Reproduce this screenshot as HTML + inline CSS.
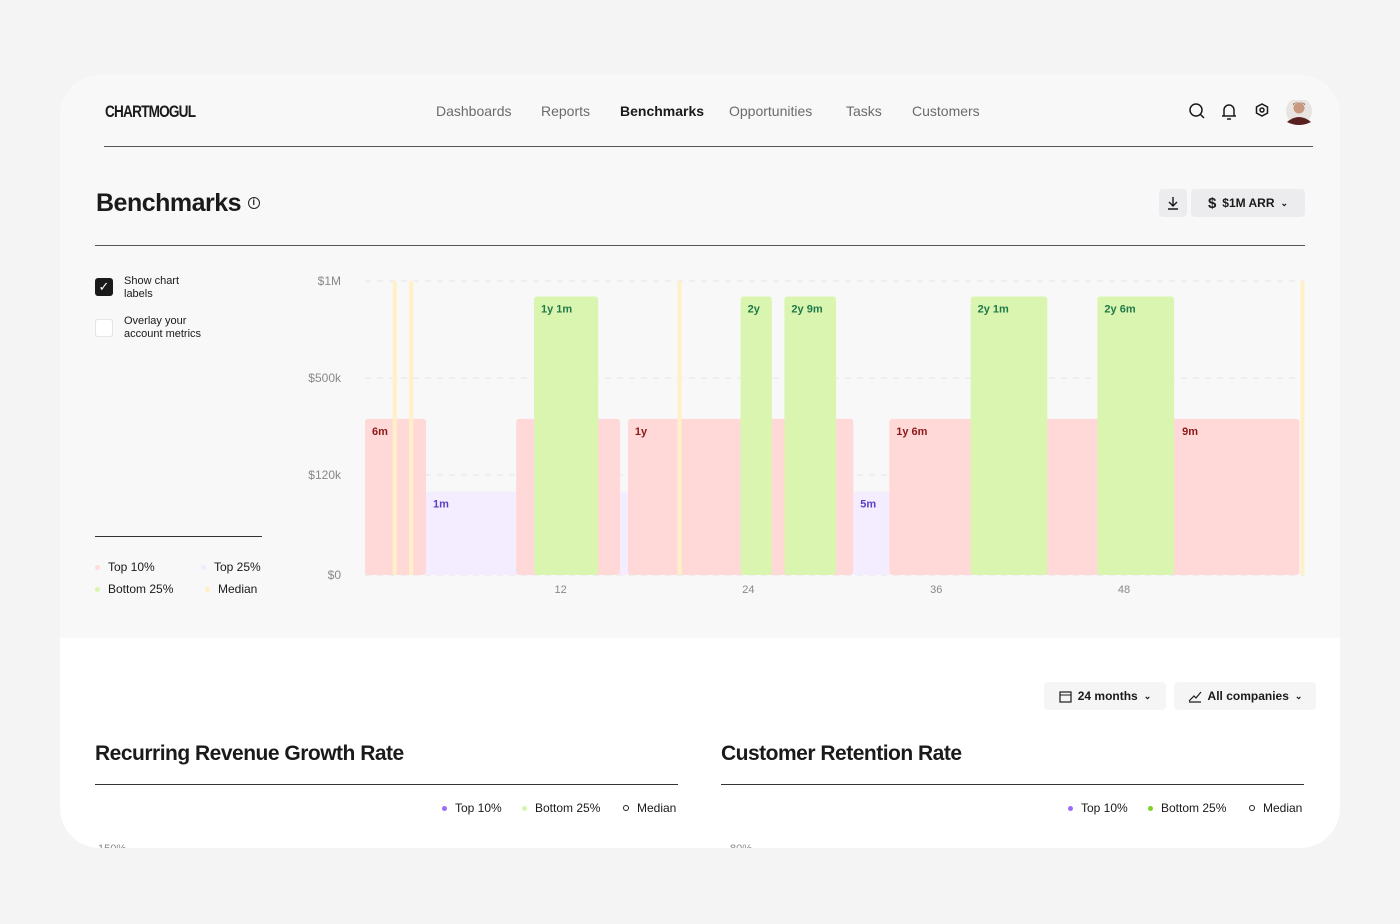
<!DOCTYPE html>
<html><head><meta charset="utf-8">
<style>
*{box-sizing:border-box;margin:0;padding:0}
body{width:1400px;height:924px;background:#f4f4f4;font-family:"Liberation Sans",sans-serif;color:#1a1a1a;position:relative;overflow:hidden}
.card{position:absolute;left:60px;top:75px;width:1280px;height:773px;border-radius:40px;overflow:hidden;background:#fff}
.top{position:absolute;left:0;top:0;width:1280px;height:563px;background:#f8f8f8}
.abs{position:absolute}
.nav a{position:absolute;top:28px;font-size:14px;color:#6b6b6b;text-decoration:none}
.btn{position:absolute;background:#ececee;border-radius:4px;font-size:12px;font-weight:bold;display:flex;align-items:center;justify-content:center;gap:6px}
.btnw{position:absolute;background:#f5f5f5;border-radius:4px;font-size:12px;font-weight:bold;display:flex;align-items:center;justify-content:center;gap:6px}
.leg{position:absolute;font-size:12px;display:flex;align-items:center;gap:8px}
.dot{width:5px;height:5px;border-radius:50%;display:inline-block}
h2{position:absolute;font-size:21px;font-weight:bold;letter-spacing:-0.5px}
</style></head><body>
<div class="card">
<div class="top"></div>
<div class="abs" style="left:45px;top:27px;font-size:17px;font-weight:bold;letter-spacing:-1px;transform:scaleX(0.8);transform-origin:left">CHARTMOGUL</div>
<div class="nav">
<a style="left:376px">Dashboards</a>
<a style="left:481px">Reports</a>
<a style="left:560px;color:#1a1a1a;font-weight:bold">Benchmarks</a>
<a style="left:669px">Opportunities</a>
<a style="left:786px">Tasks</a>
<a style="left:852px">Customers</a>
</div>
<svg class="abs" style="left:1125px;top:25px" width="130" height="28">
<g fill="none" stroke="#1a1a1a" stroke-width="1.5"><circle cx="11" cy="10" r="6"/><line x1="15.5" y1="14.5" x2="19" y2="18"/></g>
<g fill="none" stroke="#1a1a1a" stroke-width="1.5"><path d="M39 16 V10 a5 5 0 0 1 10 0 V16 Z M37 16 H51 M42 19 H46"/></g>
<g fill="none" stroke="#1a1a1a" stroke-width="1.5"><path d="M77 4 L82.5 7 V13 L77 16 L71.5 13 V7 Z"/><circle cx="77" cy="10" r="2"/></g>
<g><circle cx="114" cy="11" r="13" fill="#e8e4e2"/><circle cx="114" cy="8" r="5.5" fill="#c9987e"/><path d="M108 5 Q114 -1 120 5 V4 Q114 0 108 4Z" fill="#5a3a2a"/><path d="M102 22 Q114 12 126 22 Q120 25 114 25 Q108 25 102 22Z" fill="#5a2020"/></g>
</svg>
<div class="abs" style="left:44px;top:71px;width:1209px;height:1px;background:#555"></div>
<div class="abs" style="left:36px;top:114px;font-size:25px;font-weight:bold;letter-spacing:-0.5px">Benchmarks <span style="font-size:12px;border:1.5px solid #222;border-radius:50%;display:inline-block;width:12px;height:12px;line-height:9px;text-align:center;vertical-align:6px;font-size:9px">i</span></div>
<div class="btn" style="left:1099px;top:114px;width:28px;height:28px">
<svg width="14" height="14"><path d="M7 1 V10 M3 6 L7 10 L11 6 M2 13 H12" stroke="#1a1a1a" stroke-width="1.4" fill="none"/></svg></div>
<div class="btn" style="left:1131px;top:114px;width:114px;height:28px"><span style="font-size:15px">$</span>$1M ARR <span style="font-size:9px">⌄</span></div>
<div class="abs" style="left:35px;top:170px;width:1210px;height:1px;background:#555"></div>
<div class="abs" style="left:35px;top:203px;width:18px;height:18px;background:#1a1a1a;border-radius:3px;color:#fff;font-size:13px;text-align:center;line-height:18px">✓</div>
<div class="abs" style="left:64px;top:200px;font-size:11px;line-height:13px">Show chart<br>labels</div>
<div class="abs" style="left:35px;top:244px;width:18px;height:18px;background:#fff;border:1px solid #e4e4e4;border-radius:3px"></div>
<div class="abs" style="left:64px;top:240px;font-size:11px;line-height:13px">Overlay your<br>account metrics</div>
<div class="abs" style="left:35px;top:461px;width:167px;height:1px;background:#333"></div>
<div class="leg" style="left:35px;top:485px"><span class="dot" style="background:#fdd"></span>Top 10%</div>
<div class="leg" style="left:141px;top:485px"><span class="dot" style="background:#efeaff"></span>Top 25%</div>
<div class="leg" style="left:35px;top:507px"><span class="dot" style="background:#dbf5b0"></span>Bottom 25%</div>
<div class="leg" style="left:145px;top:507px"><span class="dot" style="background:#fff0c8"></span>Median</div>
<svg id="chart" class="abs" style="left:0;top:0" width="1280" height="560"></svg>
<div class="btnw" style="left:984px;top:607px;width:122px;height:28px">
<svg width="13" height="13"><rect x="1" y="2" width="11" height="10" fill="none" stroke="#1a1a1a" stroke-width="1.2"/><line x1="1" y1="5" x2="12" y2="5" stroke="#1a1a1a"/></svg>24 months <span style="font-size:9px">⌄</span></div>
<div class="btnw" style="left:1114px;top:607px;width:142px;height:28px">
<svg width="14" height="13"><path d="M1 11 L6 6 L8 8 L13 2 M1 12 H13" fill="none" stroke="#1a1a1a" stroke-width="1.2"/></svg>All companies <span style="font-size:9px">⌄</span></div>
<h2 style="left:35px;top:667px">Recurring Revenue Growth Rate</h2>
<div class="abs" style="left:35px;top:709px;width:583px;height:1px;background:#333"></div>
<div class="leg" style="left:382px;top:726px"><span class="dot" style="background:#9b6cf5"></span>Top 10%</div>
<div class="leg" style="left:462px;top:726px"><span class="dot" style="background:#d5f5b0"></span>Bottom 25%</div>
<div class="leg" style="left:563px;top:726px"><span class="dot" style="border:1.5px solid #222;width:6px;height:6px"></span>Median</div>
<div class="abs" style="left:38px;top:768px;font-size:11px;color:#888">150%</div>
<h2 style="left:661px;top:667px">Customer Retention Rate</h2>
<div class="abs" style="left:661px;top:709px;width:583px;height:1px;background:#333"></div>
<div class="leg" style="left:1008px;top:726px"><span class="dot" style="background:#9b6cf5"></span>Top 10%</div>
<div class="leg" style="left:1088px;top:726px"><span class="dot" style="background:#7ed321"></span>Bottom 25%</div>
<div class="leg" style="left:1189px;top:726px"><span class="dot" style="border:1.5px solid #222;width:6px;height:6px"></span>Median</div>
<div class="abs" style="left:670px;top:768px;font-size:11px;color:#888">80%</div>
</div>
<script>
const yLevels=[0,120000,500000,1000000];
const yTickLabels=["$0","$120k","$500k","$1M"];
const xTicks=[12,24,36,48];
const top10=[[0,3.9,340000,"6m"],[9.66,16.3,340000,""],[16.8,31.2,340000,"1y"],[33.5,59.7,340000,"1y 6m"]];
const top25=[[3.9,16.8,100000,"1m"],[31.2,33.5,100000,"5m"]];
const bottom25=[[10.8,14.9,920000,"1y 1m"],[24.0,26.0,920000,"2y"],[26.8,30.1,920000,"2y 9m"],[38.7,43.6,920000,"2y 1m"],[46.8,51.7,920000,"2y 6m"]];
const pinkExtraLabels=[[51.7,340000,"9m"]];
const medians=[1.9,2.95,20.1,59.9];
const svg=document.getElementById('chart');const NS='http://www.w3.org/2000/svg';
const OX=60,OY=75;
const x0=365-OX,x1=1304-OX;
function xs(m){return x0+(x1-x0)*m/60;}
const yPix=[575-OY,475-OY,378-OY,281-OY];
function ys(v){for(let i=0;i<yLevels.length-1;i++){if(v<=yLevels[i+1]){const f=(v-yLevels[i])/(yLevels[i+1]-yLevels[i]);return yPix[i]+(yPix[i+1]-yPix[i])*f;}}return yPix[3];}
function mk(t,a){const e=document.createElementNS(NS,t);for(const k in a)e.setAttribute(k,a[k]);svg.appendChild(e);return e;}
yLevels.forEach((v,i)=>{
const l=mk('line',{x1:x0,x2:x1,y1:ys(v),y2:ys(v),stroke:'#e6e6e6','stroke-dasharray':'6 6'});


const t=mk('text',{x:281,y:ys(v)+4,'text-anchor':'end','font-size':12,fill:'#888'});t.textContent=yTickLabels[i];


});
xTicks.forEach(m=>{const t=mk('text',{x:xs(m+0.5),y:518,'text-anchor':'middle','font-size':11,fill:'#888'});t.textContent=m;

});
function bars(arr,fill,col,name){arr.forEach(d=>{
const r=mk('rect',{x:xs(d[0]),y:ys(d[2]),width:xs(d[1])-xs(d[0]),height:ys(0)-ys(d[2]),fill:fill,rx:3});


if(d[3]){const t=mk('text',{x:xs(d[0])+7,y:ys(d[2])+16,'font-size':11,'font-weight':'bold',fill:col});t.textContent=d[3];

}
});}
bars(top25,'#f3edff','#5b3fc4','top25-bar');
bars(top10,'#ffd8d8','#8b1a1a','top10-bar');
bars(bottom25,'#daf5b0','#1f7a4a','bottom25-bar');
pinkExtraLabels.forEach(d=>{const t=mk('text',{x:xs(d[0])+8,y:ys(d[1])+16,'font-size':11,'font-weight':'bold',fill:'#8b1a1a'});t.textContent=d[2];

});
medians.forEach(m=>{const r=mk('rect',{x:xs(m)-2,y:ys(1000000),width:4,height:ys(0)-ys(1000000),fill:'#fff0c8'});

});
</script>
</body></html>
